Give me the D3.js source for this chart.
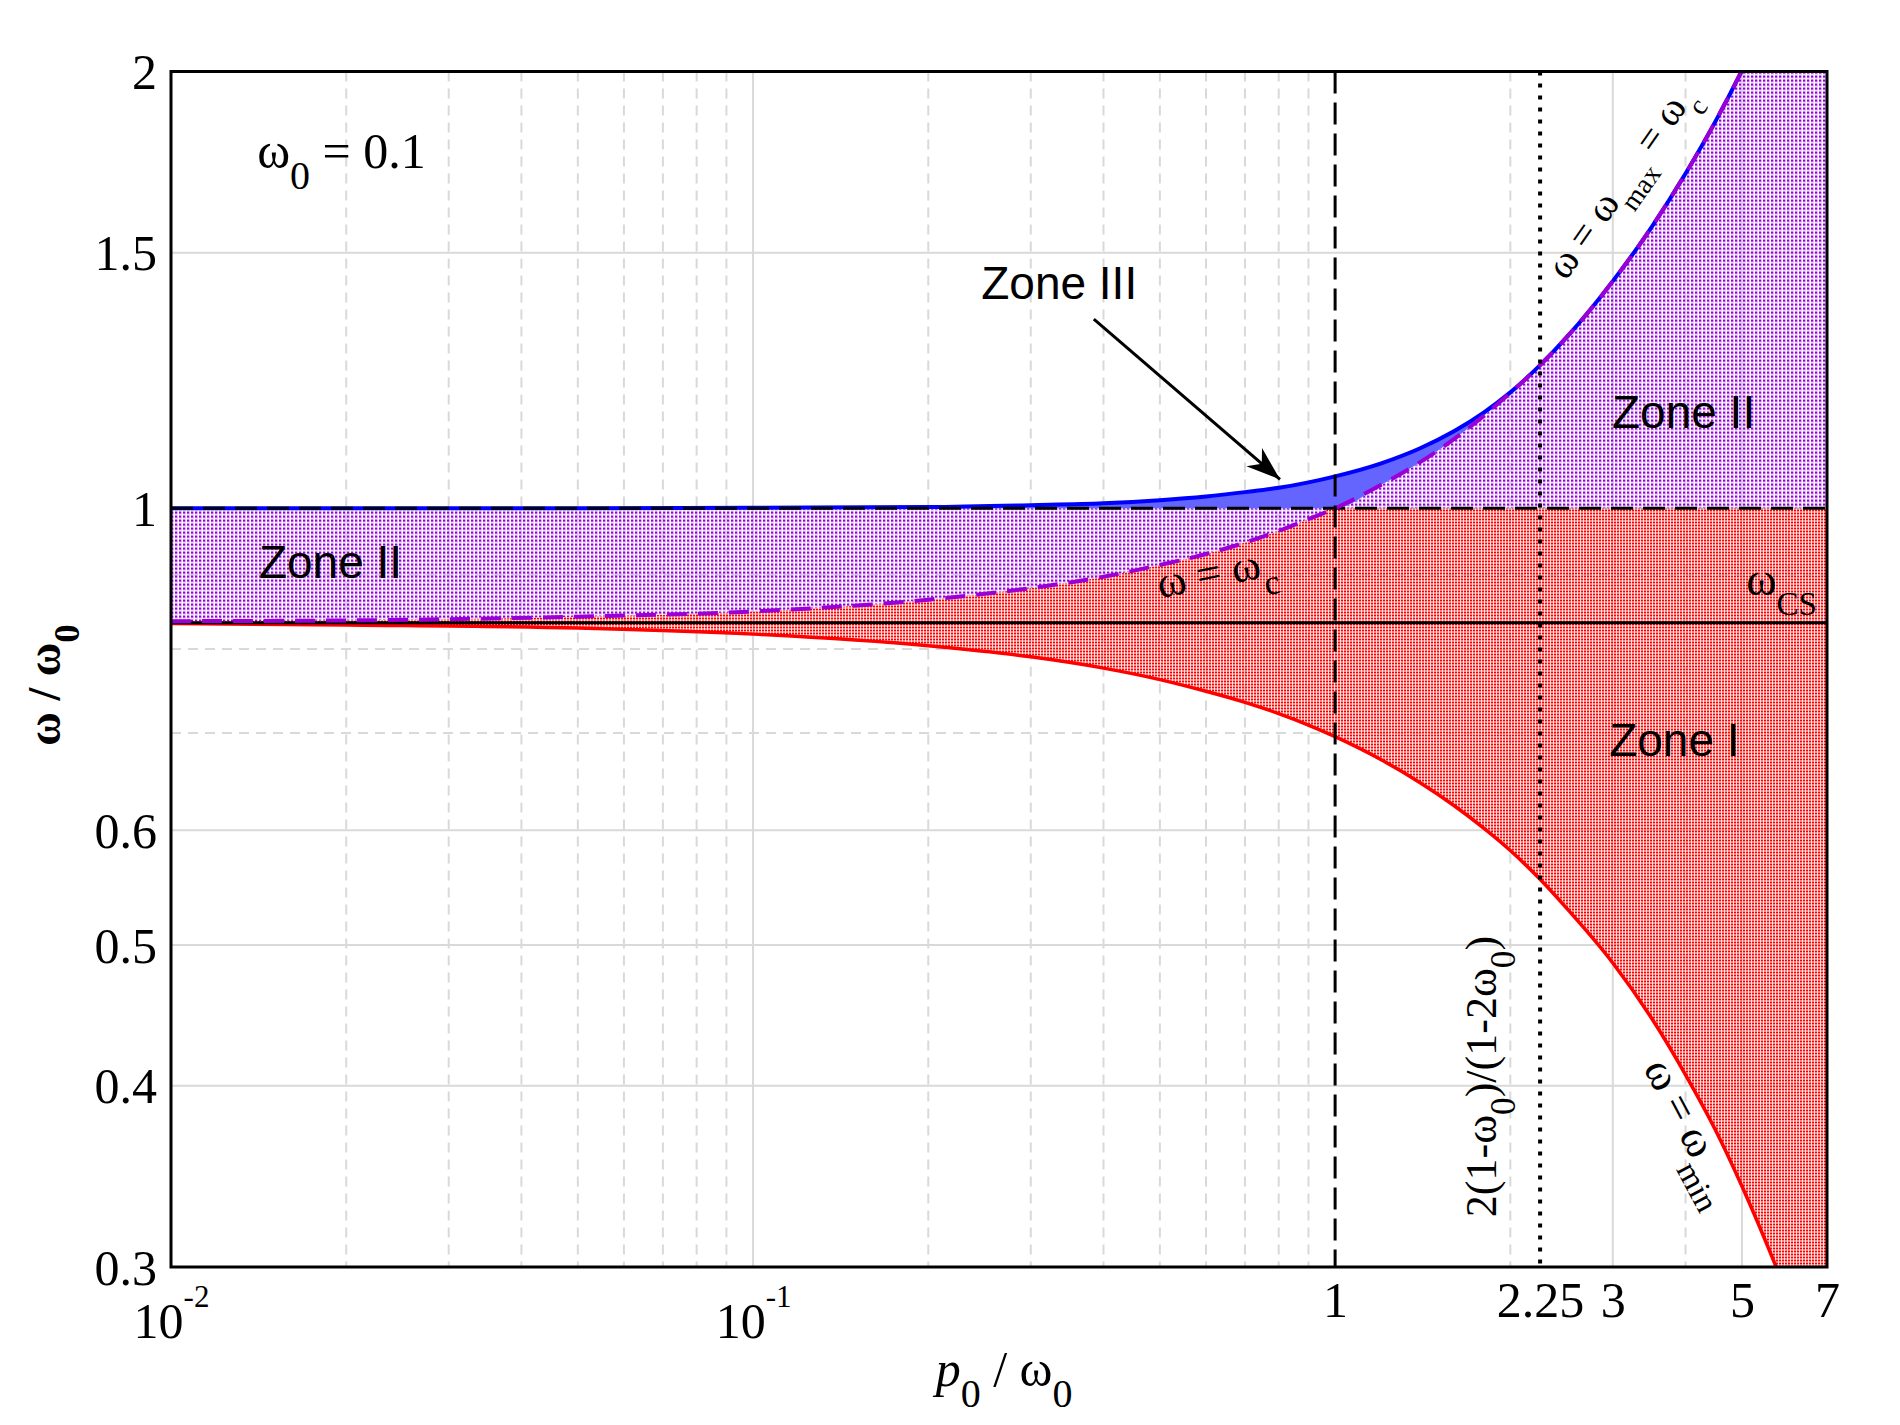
<!DOCTYPE html>
<html>
<head>
<meta charset="utf-8">
<script src="https://cdn.jsdelivr.net/npm/d3@7"></script>
<style>
  body { margin: 0; background: #fff; }
  svg text { font-family: "Liberation Serif", "Times New Roman", serif; white-space: pre; }
  svg text.sans { font-family: "Liberation Sans", Arial, sans-serif; }
</style>
</head>
<body>
<div id="chart"></div>
<script>
// zone diagram for omega_0 = 0.1, log-log: x = p0/omega0, y = omega/omega0

// p0/omega0 sample points
const p0 = [0.01, 0.02, 0.05, 0.1, 0.2, 0.3, 0.4, 0.5, 0.6, 0.7, 0.8, 0.9, 1,
            1.2, 1.4, 1.6, 1.8, 2, 2.25, 2.5, 3, 3.5, 4, 4.5, 5, 5.5, 6, 7];
// blue curve, omega_max
const omegaMax = [1.000, 1.000, 1.000, 1.001, 1.002, 1.005, 1.008, 1.013, 1.019, 1.026, 1.033, 1.042, 1.052,
                  1.074, 1.100, 1.130, 1.164, 1.202, 1.255, 1.312, 1.434, 1.563, 1.701, 1.847, 2.003, 2.168, 2.34, 2.70];
// purple dashed curve, omega_c (same as omega_max past 2.25)
const omegaC = [0.836, 0.837, 0.842, 0.849, 0.865, 0.881, 0.897, 0.914, 0.930, 0.947, 0.965, 0.983, 1.000,
                1.038, 1.076, 1.116, 1.158, 1.201, 1.255, 1.312, 1.434, 1.563, 1.701, 1.847, 2.003, 2.168, 2.34, 2.70];
// red curve, omega_min
const omegaMin = [0.833, 0.831, 0.827, 0.819, 0.804, 0.790, 0.776, 0.762, 0.748, 0.735, 0.722, 0.709, 0.696,
                  0.671, 0.647, 0.624, 0.602, 0.581, 0.555, 0.530, 0.486, 0.445, 0.407, 0.373, 0.341, 0.312, 0.286, 0.240];
const omegaCS = 0.834;
const pCross = 2.25;

const xTicks = [0.01, 0.1, 1, 2.25, 3, 5, 7];
const xTickLabels = ["10^-2", "10^-1", "1", "2.25", "3", "5", "7"];
const yTicks = [0.3, 0.4, 0.5, 0.6, 1, 1.5, 2];
const yTickLabels = ["0.3", "0.4", "0.5", "0.6", "1", "1.5", "2"];
const xGridMajor = [0.1, 3, 5];
const xGridMinor = [0.02, 0.03, 0.04, 0.05, 0.06, 0.07, 0.08, 0.09,
                    0.2, 0.3, 0.4, 0.5, 0.6, 0.7, 0.8, 0.9, 2, 4, 6];
const yGridMajor = [0.4, 0.5, 0.6, 1, 1.5];
const yGridMinor = [0.7, 0.8, 0.9];

const svgWidth = 1900;
const svgHeight = 1425;
const margin = { top: 71.5, right: 73, bottom: 158, left: 171 };
const width = svgWidth - margin.left - margin.right;
const height = svgHeight - margin.top - margin.bottom;

const svg = d3.select("#chart").append("svg")
    .attr("width", svgWidth)
    .attr("height", svgHeight);

const defs = svg.append("defs");

defs.append("clipPath").attr("id", "plotClip")
    .append("rect").attr("width", width).attr("height", height);

// stipple fills
const redPat = defs.append("pattern").attr("id", "redDots")
    .attr("patternUnits", "userSpaceOnUse").attr("width", 3).attr("height", 3);
redPat.append("rect").attr("x", 2).attr("width", 1).attr("height", 2).attr("fill", "#ffd4d4");
redPat.append("rect").attr("width", 2).attr("height", 2).attr("fill", "#ff0000");

const purplePat = defs.append("pattern").attr("id", "purpleDots")
    .attr("patternUnits", "userSpaceOnUse").attr("width", 4).attr("height", 4);
purplePat.append("rect").attr("width", 3).attr("height", 3).attr("fill", "#dcaef4");
purplePat.append("rect").attr("width", 2).attr("height", 2).attr("fill", "#9000d8");

const bluePat = defs.append("pattern").attr("id", "blueDots")
    .attr("patternUnits", "userSpaceOnUse").attr("width", 2).attr("height", 2);
bluePat.append("rect").attr("width", 2).attr("height", 2).attr("fill", "#c8c8ff");
bluePat.append("rect").attr("width", 1).attr("height", 1).attr("fill", "#0000ff");
bluePat.append("rect").attr("x", 1).attr("y", 1).attr("width", 1).attr("height", 1).attr("fill", "#0000ff");

defs.append("marker").attr("id", "arrowHead")
    .attr("viewBox", "-36 -14 38 28")
    .attr("refX", 0).attr("refY", 0)
    .attr("markerWidth", 38).attr("markerHeight", 28)
    .attr("markerUnits", "userSpaceOnUse")
    .attr("orient", "auto")
    .append("path").attr("d", "M0,0 L-34,-12 L-24,0 L-34,12 Z").attr("fill", "#000");

const chart = svg.append("g")
    .attr("transform", `translate(${margin.left},${margin.top})`);

const x = d3.scaleLog().domain([0.01, 7]).range([0, width]);
const y = d3.scaleLog().domain([0.3, 2]).range([height, 0]);

// grid
const grid = chart.append("g").attr("stroke", "#d9d9d9").attr("stroke-width", 2);
grid.selectAll("line.xmaj").data(xGridMajor).enter().append("line")
    .attr("x1", d => x(d)).attr("x2", d => x(d)).attr("y1", 0).attr("y2", height);
grid.selectAll("line.xmin").data(xGridMinor).enter().append("line")
    .attr("x1", d => x(d)).attr("x2", d => x(d)).attr("y1", 0).attr("y2", height)
    .attr("stroke-dasharray", "10,7");
grid.selectAll("line.ymaj").data(yGridMajor).enter().append("line")
    .attr("x1", 0).attr("x2", width).attr("y1", d => y(d)).attr("y2", d => y(d));
grid.selectAll("line.ymin").data(yGridMinor).enter().append("line")
    .attr("x1", 0).attr("x2", width).attr("y1", d => y(d)).attr("y2", d => y(d))
    .attr("stroke-dasharray", "10,7");

const rows = p0.map((p, i) => ({ p: p, max: omegaMax[i], c: omegaC[i], min: omegaMin[i] }));

const plot = chart.append("g").attr("clip-path", "url(#plotClip)");

function band(lo, hi) {
    return d3.area().x(d => x(d.p)).y0(d => y(lo(d))).y1(d => y(hi(d))).curve(d3.curveMonotoneX);
}

// Zone I
plot.append("path").datum(rows)
    .attr("d", band(d => d.min, d => Math.min(d.c, 1)))
    .attr("fill", "url(#redDots)");
// Zone II
plot.append("path").datum(rows)
    .attr("d", band(d => Math.min(d.c, 1), d => Math.max(d.c, 1)))
    .attr("fill", "url(#purpleDots)");
// Zone III
plot.append("path").datum(rows)
    .attr("d", band(d => Math.max(d.c, 1), d => d.max))
    .attr("fill", "url(#blueDots)");

const curve = key => d3.line().x(d => x(d.p)).y(d => y(d[key])).curve(d3.curveMonotoneX);

plot.append("path").datum(rows).attr("d", curve("max"))
    .attr("fill", "none").attr("stroke", "#0000ff").attr("stroke-width", 4);
plot.append("path").datum(rows).attr("d", curve("min"))
    .attr("fill", "none").attr("stroke", "#ff0000").attr("stroke-width", 3.5);

plot.append("line")
    .attr("x1", x(0.01)).attr("x2", x(7)).attr("y1", y(omegaCS)).attr("y2", y(omegaCS))
    .attr("stroke", "#000").attr("stroke-width", 3);
plot.append("line")
    .attr("x1", x(0.01)).attr("x2", x(7)).attr("y1", y(1)).attr("y2", y(1))
    .attr("stroke", "#000").attr("stroke-width", 3).attr("stroke-dasharray", "22,10");

plot.append("path").datum(rows).attr("d", curve("c"))
    .attr("fill", "none").attr("stroke", "#9a00d6").attr("stroke-width", 4)
    .attr("stroke-dasharray", "20,11");

plot.append("line")
    .attr("x1", x(1)).attr("x2", x(1)).attr("y1", 0).attr("y2", height)
    .attr("stroke", "#000").attr("stroke-width", 3).attr("stroke-dasharray", "22,9");
plot.append("line")
    .attr("x1", x(pCross)).attr("x2", x(pCross)).attr("y1", 0).attr("y2", height)
    .attr("stroke", "#000").attr("stroke-width", 4).attr("stroke-dasharray", "4,8");

chart.append("rect").attr("width", width).attr("height", height)
    .attr("fill", "none").attr("stroke", "#000").attr("stroke-width", 3);

// text with sub/superscripts: parts = [[text, "sub"|"sup"|"", italic]]
function rich(textSel, parts, size, subScale) {
    const ss = subScale || 0.8;
    let shift = 0;
    parts.forEach(function(part) {
        const kind = part[1] || "";
        let target = 0, fs = size;
        if (kind === "sub") { target = size * 0.42; fs = size * ss; }
        if (kind === "sup") { target = -size * 0.62; fs = size * 0.62; }
        const t = textSel.append("tspan").attr("dy", target - shift).attr("font-size", fs).text(part[0]);
        if (part[2]) t.attr("font-style", "italic");
        shift = target;
    });
}

// axes
const yAxis = chart.append("g")
    .call(d3.axisLeft(y).tickValues(yTicks).tickSize(0).tickPadding(14)
        .tickFormat((d, i) => yTickLabels[i]));
yAxis.select(".domain").remove();
yAxis.selectAll(".tick text").attr("font-size", 50).attr("fill", "#000").attr("dy", "0.34em");

const xAxis = chart.append("g")
    .attr("transform", `translate(0,${height})`)
    .call(d3.axisBottom(x).tickValues(xTicks).tickSize(0).tickFormat(""));
xAxis.select(".domain").remove();
xAxis.selectAll(".tick text").each(function(d, i) {
    const t = d3.select(this).attr("dy", null).attr("fill", "#000").attr("font-size", 50);
    const lab = xTickLabels[i].split("^");
    if (lab.length > 1) {
        t.attr("y", 71);
        rich(t, [[lab[0]], [lab[1], "sup"]], 50);
    } else {
        t.attr("y", 50).text(lab[0]);
    }
});

// axis titles
const xTitle = chart.append("text")
    .attr("x", x(0.27)).attr("y", height + 119)
    .attr("text-anchor", "middle").attr("font-size", 50);
rich(xTitle, [["p", "", true], ["0", "sub"], [" / ω"], ["0", "sub"]], 50);

const yTitle = svg.append("text")
    .attr("transform", `translate(60,${685}) rotate(-90)`)
    .attr("text-anchor", "middle").attr("font-size", 46).attr("font-weight", "bold");
rich(yTitle, [["ω / ω"], ["0", "sub"]], 46);

// annotations, anchored in data coordinates
function note(p, w, angle, size, parts, cls, subScale) {
    const t = chart.append("text")
        .attr("transform", `translate(${x(p)},${y(w)}) rotate(${angle})`)
        .attr("font-size", size);
    if (cls) t.attr("class", cls);
    rich(t, parts, size, subScale);
    return t;
}

note(0.01406, 1.716, 0, 50, [["ω"], ["0", "sub"], [" = 0.1"]]);
note(0.2466, 1.394, 0, 46, [["Zone III"]], "sans");
note(2.99, 1.136, 0, 46, [["Zone II"]], "sans");
note(0.01416, 0.895, 0, 46, [["Zone II"]], "sans");
note(2.957, 0.675, 0, 46, [["Zone I"]], "sans");
note(0.5004, 0.867, -11.5, 44, [["ω = ω"], ["c", "sub"]]);
note(5.085, 0.871, 0, 46, [["ω"], ["CS", "sub"]], null, 0.72);
note(2.494, 1.434, -55, 40, [["ω = ω"], ["max", "sub"], [" = ω"], ["c", "sub"]], null, 0.7);
note(1.89, 0.3247, -90, 44, [["2(1-ω"], ["0", "sub"], [")/(1-2ω"], ["0", "sub"], [")"]]);
note(3.38, 0.4113, 62, 44, [["ω = ω"], ["min", "sub"]], null, 0.75);

// arrow pointing at Zone III
chart.append("line")
    .attr("x1", x(0.385)).attr("y1", y(1.35))
    .attr("x2", x(0.804)).attr("y2", y(1.047))
    .attr("stroke", "#000").attr("stroke-width", 3)
    .attr("marker-end", "url(#arrowHead)");
</script>
</body>
</html>
